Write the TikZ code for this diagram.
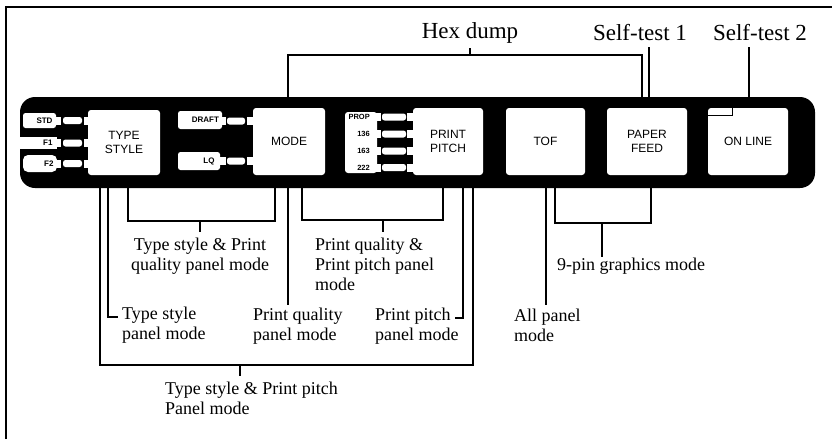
\documentclass[tikz,border=0pt]{standalone}
\usepackage{fontspec}
\setmainfont{Liberation Serif}
\setsansfont{Liberation Sans}
\begin{document}
\begin{tikzpicture}[x=1pt,y=-1pt,
  key/.style={fill=white, rounded corners=3pt, inner sep=0pt, align=center,
    font=\sffamily\fontsize{12}{13.5}\selectfont},
  lab/.style={fill=white, rounded corners=2.5pt, inner sep=0pt, align=right,
    font=\sffamily\bfseries\fontsize{8}{9}\selectfont},
  small/.style={inner sep=0pt, font=\sffamily\bfseries\fontsize{7.5}{8}\selectfont},
  led/.style={fill=white, rounded corners=2.5pt},
  tab/.style={fill=white},
  ann/.style={inner sep=0pt, align=left, font=\fontsize{18}{20}\selectfont},
  big/.style={inner sep=0pt, font=\fontsize{23}{25}\selectfont},
  wire/.style={line width=1.1pt}]
\useasboundingbox (0,0) rectangle (837,439);
% frame
\draw[line width=1.2pt] (6,439) -- (6,7) -- (832,7);
% panel bar
\fill[black, rounded corners=15pt] (20,97) rectangle (815,188);
% label boxes on the left
\node[lab, minimum width=33pt, minimum height=15pt, text width=26pt] (std) at (39.5,120.5) {STD};
\node[lab, minimum width=42pt, minimum height=12pt, text width=33pt, rounded corners=0pt] (fone) at (36,143) {F1};
\node[lab, minimum width=34pt, minimum height=17pt, text width=27pt, rounded corners=5pt] (ftwo) at (40,163.5) {F2};
\foreach \y in {120.5,143,163.5}{
  \fill[tab] (55,\y-4) rectangle (61,\y+4);
  \fill[led] (63,\y-3.5) rectangle (82,\y+3.5);
  \fill[tab] (84,\y-4) rectangle (90,\y+4);
}
\node[key, minimum width=72pt, minimum height=65pt] (type) at (124,142.5) {TYPE\\STYLE};
% draft / lq
\node[lab, minimum width=44pt, minimum height=18pt, text width=38pt] (draft) at (200,120) {DRAFT};
\node[lab, minimum width=42pt, minimum height=18pt, text width=31pt] (lq) at (199,161) {LQ};
\foreach \y in {121,161}{
  \fill[tab] (220,\y-4) rectangle (226,\y+4);
  \fill[led] (227,\y-3.5) rectangle (245,\y+3.5);
  \fill[tab] (247,\y-4) rectangle (256,\y+4);
}
\node[key, minimum width=72pt, minimum height=67pt] (mode) at (289,141.5) {MODE};
% pitch selector
\node[fill=white, rounded corners=3pt, minimum width=32pt, minimum height=61pt, inner sep=0pt] (pitchsel) at (361,142.5) {};
\node[small, anchor=east] (prop) at (370,117) {PROP};
\node[small, anchor=east] (p136) at (370,134) {136};
\node[small, anchor=east] (p163) at (370,151) {163};
\node[small, anchor=east] (p222) at (370,167.5) {222};
\foreach \y in {117,134,151,167.5}{
  \fill[tab] (375,\y-4) rectangle (381,\y+4);
  \fill[led] (382,\y-3.5) rectangle (406,\y+3.5);
  \fill[tab] (407,\y-4) rectangle (415,\y+4);
}
\node[key, minimum width=70pt, minimum height=67pt] (pitch) at (448,141.5) {PRINT\\PITCH};
\node[key, minimum width=79pt, minimum height=67pt] (tof) at (545.5,141.5) {TOF};
\node[key, minimum width=80pt, minimum height=67pt] (feed) at (647,141.5) {PAPER\\FEED};
\node[key, minimum width=80pt, minimum height=67pt] (online) at (748,141.5) {ON LINE};
\draw[line width=1.3pt] (online.north west) ++(0,8) -- ++(25,0) -- ++(0,-8);
% top labels
\node[big] (hex) at (470,33) {Hex dump};
\node[big] (st1) at (640,33) {Self-test 1};
\node[big] (st2) at (760,33) {Self-test 2};
\coordinate (hexL) at (288,55);
\coordinate (hexR) at (642,55);
\draw[wire] (288,97) -- (hexL) -- (hexR) -- (642,97);
\draw[wire] (470,55) -- (470,48);
\draw[wire] (649,47) -- (649,97);
\draw[wire] (749,47) -- (749,97);
% bottom annotations
\node[ann, anchor=north, align=center] (tsq) at (200,238) {Type style \& Print\\quality panel mode};
\node[ann, anchor=north west] (pqp) at (315,238) {Print quality \&\\Print pitch panel\\mode};
\node[ann, anchor=north west] (tsp) at (122,307) {Type style\\panel mode};
\node[ann, anchor=north west] (pqm) at (253,308) {Print quality\\panel mode};
\node[ann, anchor=north west] (ppm) at (375,308) {Print pitch\\panel mode};
\node[ann, anchor=north west] (apm) at (514,309) {All panel\\mode};
\node[ann, anchor=north west] (nine) at (557,258) {9-pin graphics mode};
\node[ann, anchor=north west] (tspp) at (165,382) {Type style \& Print pitch\\Panel mode};
% brackets
\draw[wire] (100,188) -- (100,365) -- (473,365) -- (473,188);
\draw[wire] (240,365) -- (240,376);
\draw[wire] (108,188) -- (108,317) -- (118,317);
\draw[wire] (128,188) -- (128,221) -- (275,221) -- (275,188);
\draw[wire] (200,221) -- (200,232);
\draw[wire] (288,188) -- (288,305);
\draw[wire] (302,188) -- (302,220) -- (443,220) -- (443,188);
\draw[wire] (383,220) -- (383,232);
\draw[wire] (463,188) -- (463,318) -- (455,318);
\draw[wire] (546,188) -- (546,305);
\draw[wire] (555,188) -- (555,223) -- (651,223) -- (651,188);
\draw[wire] (602,223) -- (602,257);
\end{tikzpicture}
\end{document}
